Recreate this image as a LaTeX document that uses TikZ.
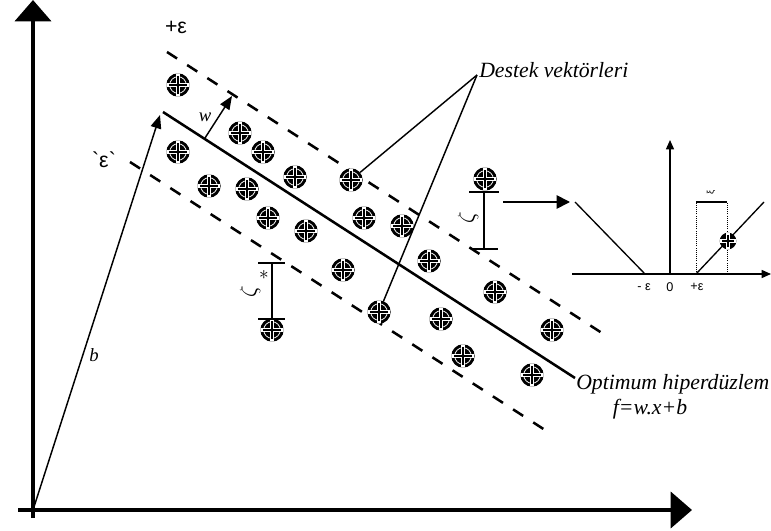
\documentclass[tikz,border=0pt]{standalone}
\usepackage{fontspec}
\setmainfont{Liberation Serif}
\newfontfamily\insetfont{Liberation Sans}
\usetikzlibrary{arrows.meta}
\tikzset{
  sv/.style={circle,fill=black,minimum size=17.5pt,inner sep=0pt,
    path picture={
      \coordinate (pc) at (path picture bounding box.center);
      \draw[white,line width=0.6pt] (pc) circle (6.2pt);
      \draw[white,line width=3pt] ([xshift=-9pt]pc)--([xshift=9pt]pc) ([yshift=-9pt]pc)--([yshift=9pt]pc);
      \draw[black,line width=1.4pt] ([xshift=-6.8pt]pc)--([xshift=6.8pt]pc) ([yshift=-6.8pt]pc)--([yshift=6.8pt]pc);
    }},
  svsmall/.style={circle,fill=black,minimum size=12.5pt,inner sep=0pt,
    path picture={
      \coordinate (pc) at (path picture bounding box.center);
      \draw[white,line width=2.6pt] ([xshift=-7pt]pc)--([xshift=7pt]pc) ([yshift=-7pt]pc)--([yshift=7pt]pc);
      \draw[black,line width=0.8pt] ([xshift=-4.5pt]pc)--([xshift=4.5pt]pc) ([yshift=-4.5pt]pc)--([yshift=4.5pt]pc);
    }},
  bigaxis/.style={line width=3pt,-{Triangle[length=16pt,width=27pt]}},
  thinarrow/.style={line width=1.1pt,-{Triangle[length=10pt,width=8pt]}},
  margin/.style={line width=1.9pt,dash pattern=on 9pt off 9pt},
  hyper/.style={line width=1.9pt},
  ibeam/.style={line width=1.5pt},
  lbl/.style={font=\itshape\fontsize{16.3}{18}\selectfont,inner sep=0pt},
  eps/.style={inner sep=0pt,font=\insetfont\fontsize{16}{18}\selectfont},
  tick/.style={inner sep=0pt,font=\insetfont\fontsize{9.5}{11}\selectfont},
}
\begin{document}
\begin{tikzpicture}[x=0.75pt,y=-0.75pt]
\useasboundingbox (0,0) rectangle (771,531);
% main axes
\coordinate (O) at (33,510);
\coordinate (Ytop) at (33,0);
\coordinate (Xend) at (692,510);
\draw[bigaxis] (33,518) -- (Ytop);
\draw[bigaxis] (18,510) -- (Xend);
% hyperplane and margins
\coordinate (h1) at (163,112);
\coordinate (h2) at (575,378);
\draw[hyper] (h1) -- (h2);
\coordinate (u1) at (167,52);
\coordinate (u2) at (605,335);
\draw[margin] (u1) -- (u2);
\coordinate (l1) at (130,162);
\coordinate (l2) at (545,430);
\draw[margin] (l1) -- (l2);
% vectors b and w
\coordinate (btip) at (160,115);
\draw[thinarrow] (O) -- (btip);
\node[lbl,font=\itshape\fontsize{14}{16}\selectfont] (blab) at (94,355) {b};
\coordinate (wbase) at (205,138);
\coordinate (wtip) at (232,96);
\draw[thinarrow] (wbase) -- (wtip);
\node[lbl,font=\itshape\fontsize{14}{16}\selectfont] (wlab) at (205,117) {w};
% epsilon labels
\node[eps] (eplus) at (176,27) {+ε};
\node[eps] (eminus) at (104,160) {`ε`};
% data points
\foreach \n/\x/\y in {1/178/85, 2/240/133, 3/178/152, 4/263/152, 5/295/177, 6/351/180,
  7/209/186, 8/247/189, 9/268/218, 10/306/231, 11/364/218, 12/402/226, 13/429/261,
  14/343/270, 15/379/312, 16/272/330, 17/495/292, 18/552/330, 19/463/356, 20/532/375,
  21/441/319, 22/485/179}
  \node[sv] (c\n) at (\x,\y) {};
% support vectors label
\node[lbl,anchor=south west] (destek) at (479,78) {Destek vektörleri};
\coordinate (apex) at (477,75);
\draw[line width=1.1pt] (apex) -- (c6);
\draw[line width=1.1pt] (apex) -- (c15);
% optimum hyperplane label
\node[lbl,anchor=west] (opt) at (576,384) {Optimum hiperdüzlem};
\node[lbl] (feq) at (650,409) {f=w.x+b};
% zeta* marker
\coordinate (zs1) at (272,263);
\coordinate (zs2) at (272,319);
\draw[ibeam] (258,263) -- (285,263);
\draw[ibeam] (258,319) -- (285,319);
\draw[ibeam] (zs1) -- (zs2);
\node[inner sep=0pt,rotate=90] (zslab) at (250,292) {\fontsize{17}{19}\selectfont$\zeta$};
\node[inner sep=0pt] (zsstar) at (264,275) {\fontsize{15}{17}\selectfont$*$};
% zeta marker
\coordinate (z1) at (484,192);
\coordinate (z2) at (484,249);
\draw[ibeam] (469,192) -- (499,192);
\draw[ibeam] (471,249) -- (498,249);
\draw[ibeam] (z1) -- (z2);
\node[inner sep=0pt,rotate=90] (zlab) at (468,218) {\fontsize{17}{19}\selectfont$\zeta$};
% arrow to inset
\coordinate (a1) at (503,202);
\coordinate (a2) at (570,202);
\draw[line width=1.3pt,-{Triangle[length=10pt,width=10pt]}] (a1) -- (a2);
% inset
\coordinate (iO) at (670,274);
\draw[line width=1pt,-{Triangle[length=7pt,width=6pt]}] (572,274) -- (771,274);
\draw[line width=1pt,-{Triangle[length=7pt,width=6pt]}] (iO) -- (670,140);
\draw[line width=1pt] (575,202) -- (645,274) -- (696,274) -- (764,202);
\draw[line width=0.6pt,densely dotted] (696,274) -- (696,202);
\draw[line width=0.6pt,densely dotted] (727,274) -- (727,202);
\draw[line width=1pt] (696,202) -- (727,202);
\node[svsmall] (ic) at (728,241) {};
\node[inner sep=0pt,rotate=90,font=\insetfont\fontsize{7}{8}\selectfont] (xi) at (711,192) {ξ};
\node[tick] (tm) at (644,287) {- ε};
\node[tick] (t0) at (670,287) {0};
\node[tick] (tp) at (697,287) {+ε};
\end{tikzpicture}
\end{document}
